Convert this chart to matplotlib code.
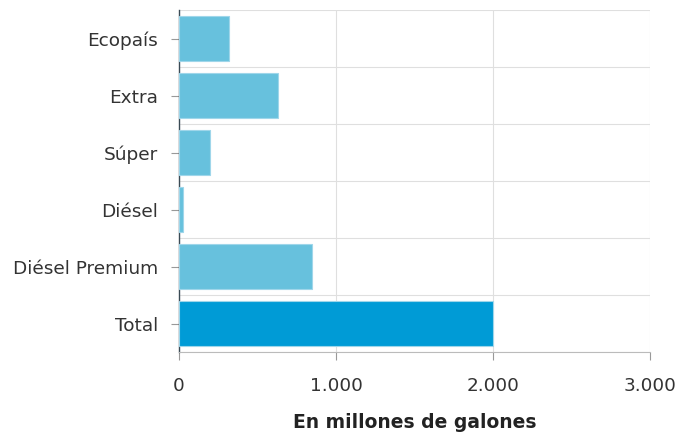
import matplotlib
matplotlib.use("Agg")
import matplotlib.pyplot as plt
import numpy as np

categories = ["Ecopaís", "Extra", "Súper", "Diésel", "Diésel Premium", "Total"]
values = [318, 633, 197, 25, 845, 2000]
colors = ["#67C1DD", "#67C1DD", "#67C1DD", "#67C1DD", "#67C1DD", "#009BD6"]
xticks = [0, 1000, 2000, 3000]
xticklabels = ["0", "1.000", "2.000", "3.000"]
xlabel = "En millones de galones"

plt.rcParams['font.family'] = ['DejaVu Sans']

fig = plt.figure(figsize=(6.78, 4.38), dpi=100)
ax = fig.add_axes([0.264, 0.1963, 0.6947, 0.7807])

y = np.arange(len(categories))
ax.barh(y, values, height=0.8, color=colors, edgecolor="#9fd6ea", linewidth=0.8, zorder=3)
ax.set_ylim(len(categories) - 0.5, -0.5)
ax.set_xlim(0, 3000)
ax.set_yticks(y)
ax.set_yticklabels(categories, fontsize=13.3, color="#333333")
ax.set_xticks(xticks)
ax.set_xticklabels(xticklabels, fontsize=13.2, color="#333333")
ax.set_yticks(np.arange(-0.5, len(categories), 1.0), minor=True)
ax.grid(True, which="minor", axis="y", color="#dfdfdf", linewidth=0.8, zorder=0)
ax.grid(True, which="major", axis="x", color="#dfdfdf", linewidth=0.8, zorder=0)
ax.tick_params(axis="y", which="minor", length=0)
ax.tick_params(axis="y", which="major", length=6, color="#999999", pad=9)
ax.tick_params(axis="x", which="major", length=6, color="#999999", pad=12)

for s in ["top", "right"]:
    ax.spines[s].set_visible(False)
ax.spines["left"].set_color("#3a4a55")
ax.spines["left"].set_linewidth(1.0)
ax.spines["bottom"].set_color("#bbbbbb")
ax.spines["bottom"].set_linewidth(0.8)

ax.set_xlabel(xlabel, fontsize=13.5, fontweight="bold", color="#222222", labelpad=13)

fig.savefig("out.png", dpi=100)
